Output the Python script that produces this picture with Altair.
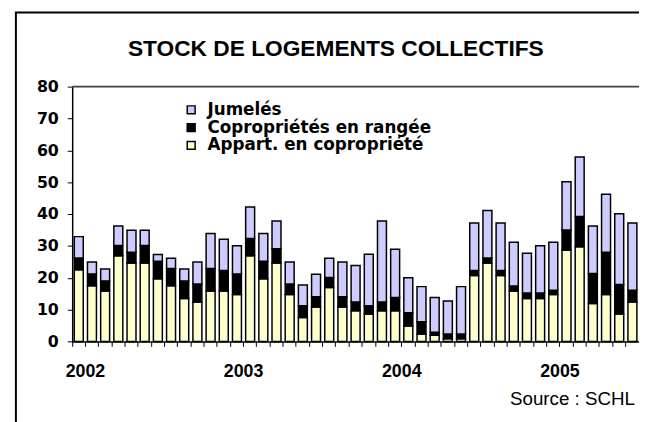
import altair as alt
import pandas as pd

# --- data (units in the chart's own scale) ---
years = [2002, 2003, 2004, 2005]
n_months = 43  # Jan 2002 .. Jul 2005

series_names = ["Jumelés", "Copropriétés en rangée", "Appart. en copropriété"]
series_colors = ["#CCCCFF", "#000000", "#FFFFCC"]

appart = [22.5, 17.5, 15.8, 26.9, 24.6, 24.6, 19.7, 17.5, 13.5, 12.4, 15.8, 15.8,
          14.7, 26.9, 19.7, 24.6, 14.7, 7.5, 10.8, 16.9, 10.8, 9.6, 8.6, 9.6,
          9.6, 4.8, 2.3, 1.9, 0.8, 0.8, 20.7, 24.6, 20.7, 15.8, 13.5, 13.5,
          14.7, 28.6, 29.7, 11.9, 14.7, 8.6, 12.4]
copro = [3.7, 3.7, 3.2, 3.2, 3.4, 5.5, 5.5, 5.4, 5.5, 5.6, 7.1, 6.5,
         6.5, 5.4, 5.5, 4.5, 3.3, 3.7, 3.2, 3.2, 3.2, 2.8, 2.6, 2.8,
         4.2, 4.2, 3.9, 1.0, 1.5, 1.5, 1.6, 1.6, 1.6, 1.6, 1.7, 1.7,
         1.4, 6.4, 9.5, 9.4, 13.3, 9.3, 3.7]
jumeles = [6.7, 3.7, 3.7, 6.1, 6.9, 4.8, 2.1, 3.2, 3.7, 6.9, 11.0, 9.8,
           8.8, 9.9, 8.7, 8.7, 6.9, 6.5, 7.1, 6.0, 10.9, 11.4, 16.2, 25.4,
           15.1, 11.0, 11.0, 10.9, 10.4, 14.9, 14.9, 14.9, 14.9, 13.7, 12.5, 14.8,
           15.0, 15.1, 18.7, 14.9, 18.2, 22.2, 21.1]

months = [f"{y}-{m:02d}" for y in years for m in range(1, 13)][:n_months]

rows = []
for i, mo in enumerate(months):
    rows.append({"mois": mo, "type": series_names[2], "valeur": appart[i], "ordre": 0})
    rows.append({"mois": mo, "type": series_names[1], "valeur": copro[i], "ordre": 1})
    rows.append({"mois": mo, "type": series_names[0], "valeur": jumeles[i], "ordre": 2})
df = pd.DataFrame(rows)
one = pd.DataFrame({"t": ["Source : SCHL"]})

W, H = 574, 258

bars = alt.Chart(df).mark_bar(
    width=alt.RelativeBandSize(0.68), stroke="#000000", strokeWidth=1.5
).encode(
    x=alt.X("mois:O", sort=months,
            scale=alt.Scale(paddingInner=0, paddingOuter=0),
            axis=alt.Axis(title=None, bandPosition=0, tickSize=5, tickColor="#000000",
                          domainColor="#000000", domainWidth=1.5,
                          labelExpr="substring(datum.value, 5, 7) == '01' ? substring(datum.value, 0, 4) : ''",
                          labelAngle=0, labelOverlap=False, labelOffset=6.7,
                          labelFont="Liberation Sans", labelFontWeight="bold",
                          labelFontSize=18, labelColor="#000000", labelPadding=17)),
    y=alt.Y("valeur:Q", stack="zero",
            scale=alt.Scale(domain=[0, 80], nice=False),
            axis=alt.Axis(title=None, values=list(range(0, 81, 10)), grid=False,
                          tickSize=5, tickColor="#000000", domainColor="#000000",
                          domainWidth=1.5, labelFont="DejaVu Sans",
                          labelFontWeight="bold", labelFontSize=16,
                          labelColor="#000000", labelPadding=9)),
    color=alt.Color("type:N",
                    scale=alt.Scale(domain=series_names, range=series_colors),
                    legend=alt.Legend(title=None, orient="none", legendX=112, legendY=15,
                                      symbolType="square", symbolSize=64,
                                      symbolStrokeColor="#000000", symbolStrokeWidth=1.5,
                                      labelFont="DejaVu Sans", labelFontWeight="bold",
                                      labelFontSize=17, labelColor="#000000",
                                      labelOffset=8, labelLimit=400,
                                      rowPadding=0, padding=0)),
    order=alt.Order("ordre:Q", sort="ascending"),
)

top_line = alt.Chart(one).mark_rule(color="#404040", strokeWidth=2).encode(
    x=alt.value(0), x2=alt.value(W), y=alt.value(0), y2=alt.value(0)
)
frame_left = alt.Chart(one).mark_rule(color="#000000", strokeWidth=2).encode(
    x=alt.value(-57), x2=alt.value(-57), y=alt.value(-75), y2=alt.value(H + 85)
)
frame_top = alt.Chart(one).mark_rule(color="#000000", strokeWidth=2).encode(
    x=alt.value(-58), x2=alt.value(W), y=alt.value(-75), y2=alt.value(-75)
)
edge_clear = alt.Chart(one).mark_rule(color="#FFFFFF", strokeWidth=4).encode(
    x=alt.value(W), x2=alt.value(W), y=alt.value(-73), y2=alt.value(-2)
)
source = alt.Chart(one).mark_text(
    align="right", baseline="alphabetic", font="Liberation Sans", fontSize=19, color="#000000"
).encode(x=alt.value(570), y=alt.value(322), text="t:N")

chart = alt.layer(bars, top_line, frame_left, frame_top, edge_clear, source).properties(
    width=W, height=H,
    title=alt.TitleParams("STOCK DE LOGEMENTS COLLECTIFS", anchor="middle", frame="group",
                          font="Liberation Sans", fontSize=23, fontWeight="bold",
                          color="#000000", dx=-20, offset=-68, baseline="alphabetic"),
    autosize=alt.AutoSizeParams(type="none"),
    padding={"left": 65, "top": 77, "right": 0, "bottom": 79},
).configure_view(stroke=None)

chart.save("out.html", embed_options={"renderer": "svg", "actions": False})
